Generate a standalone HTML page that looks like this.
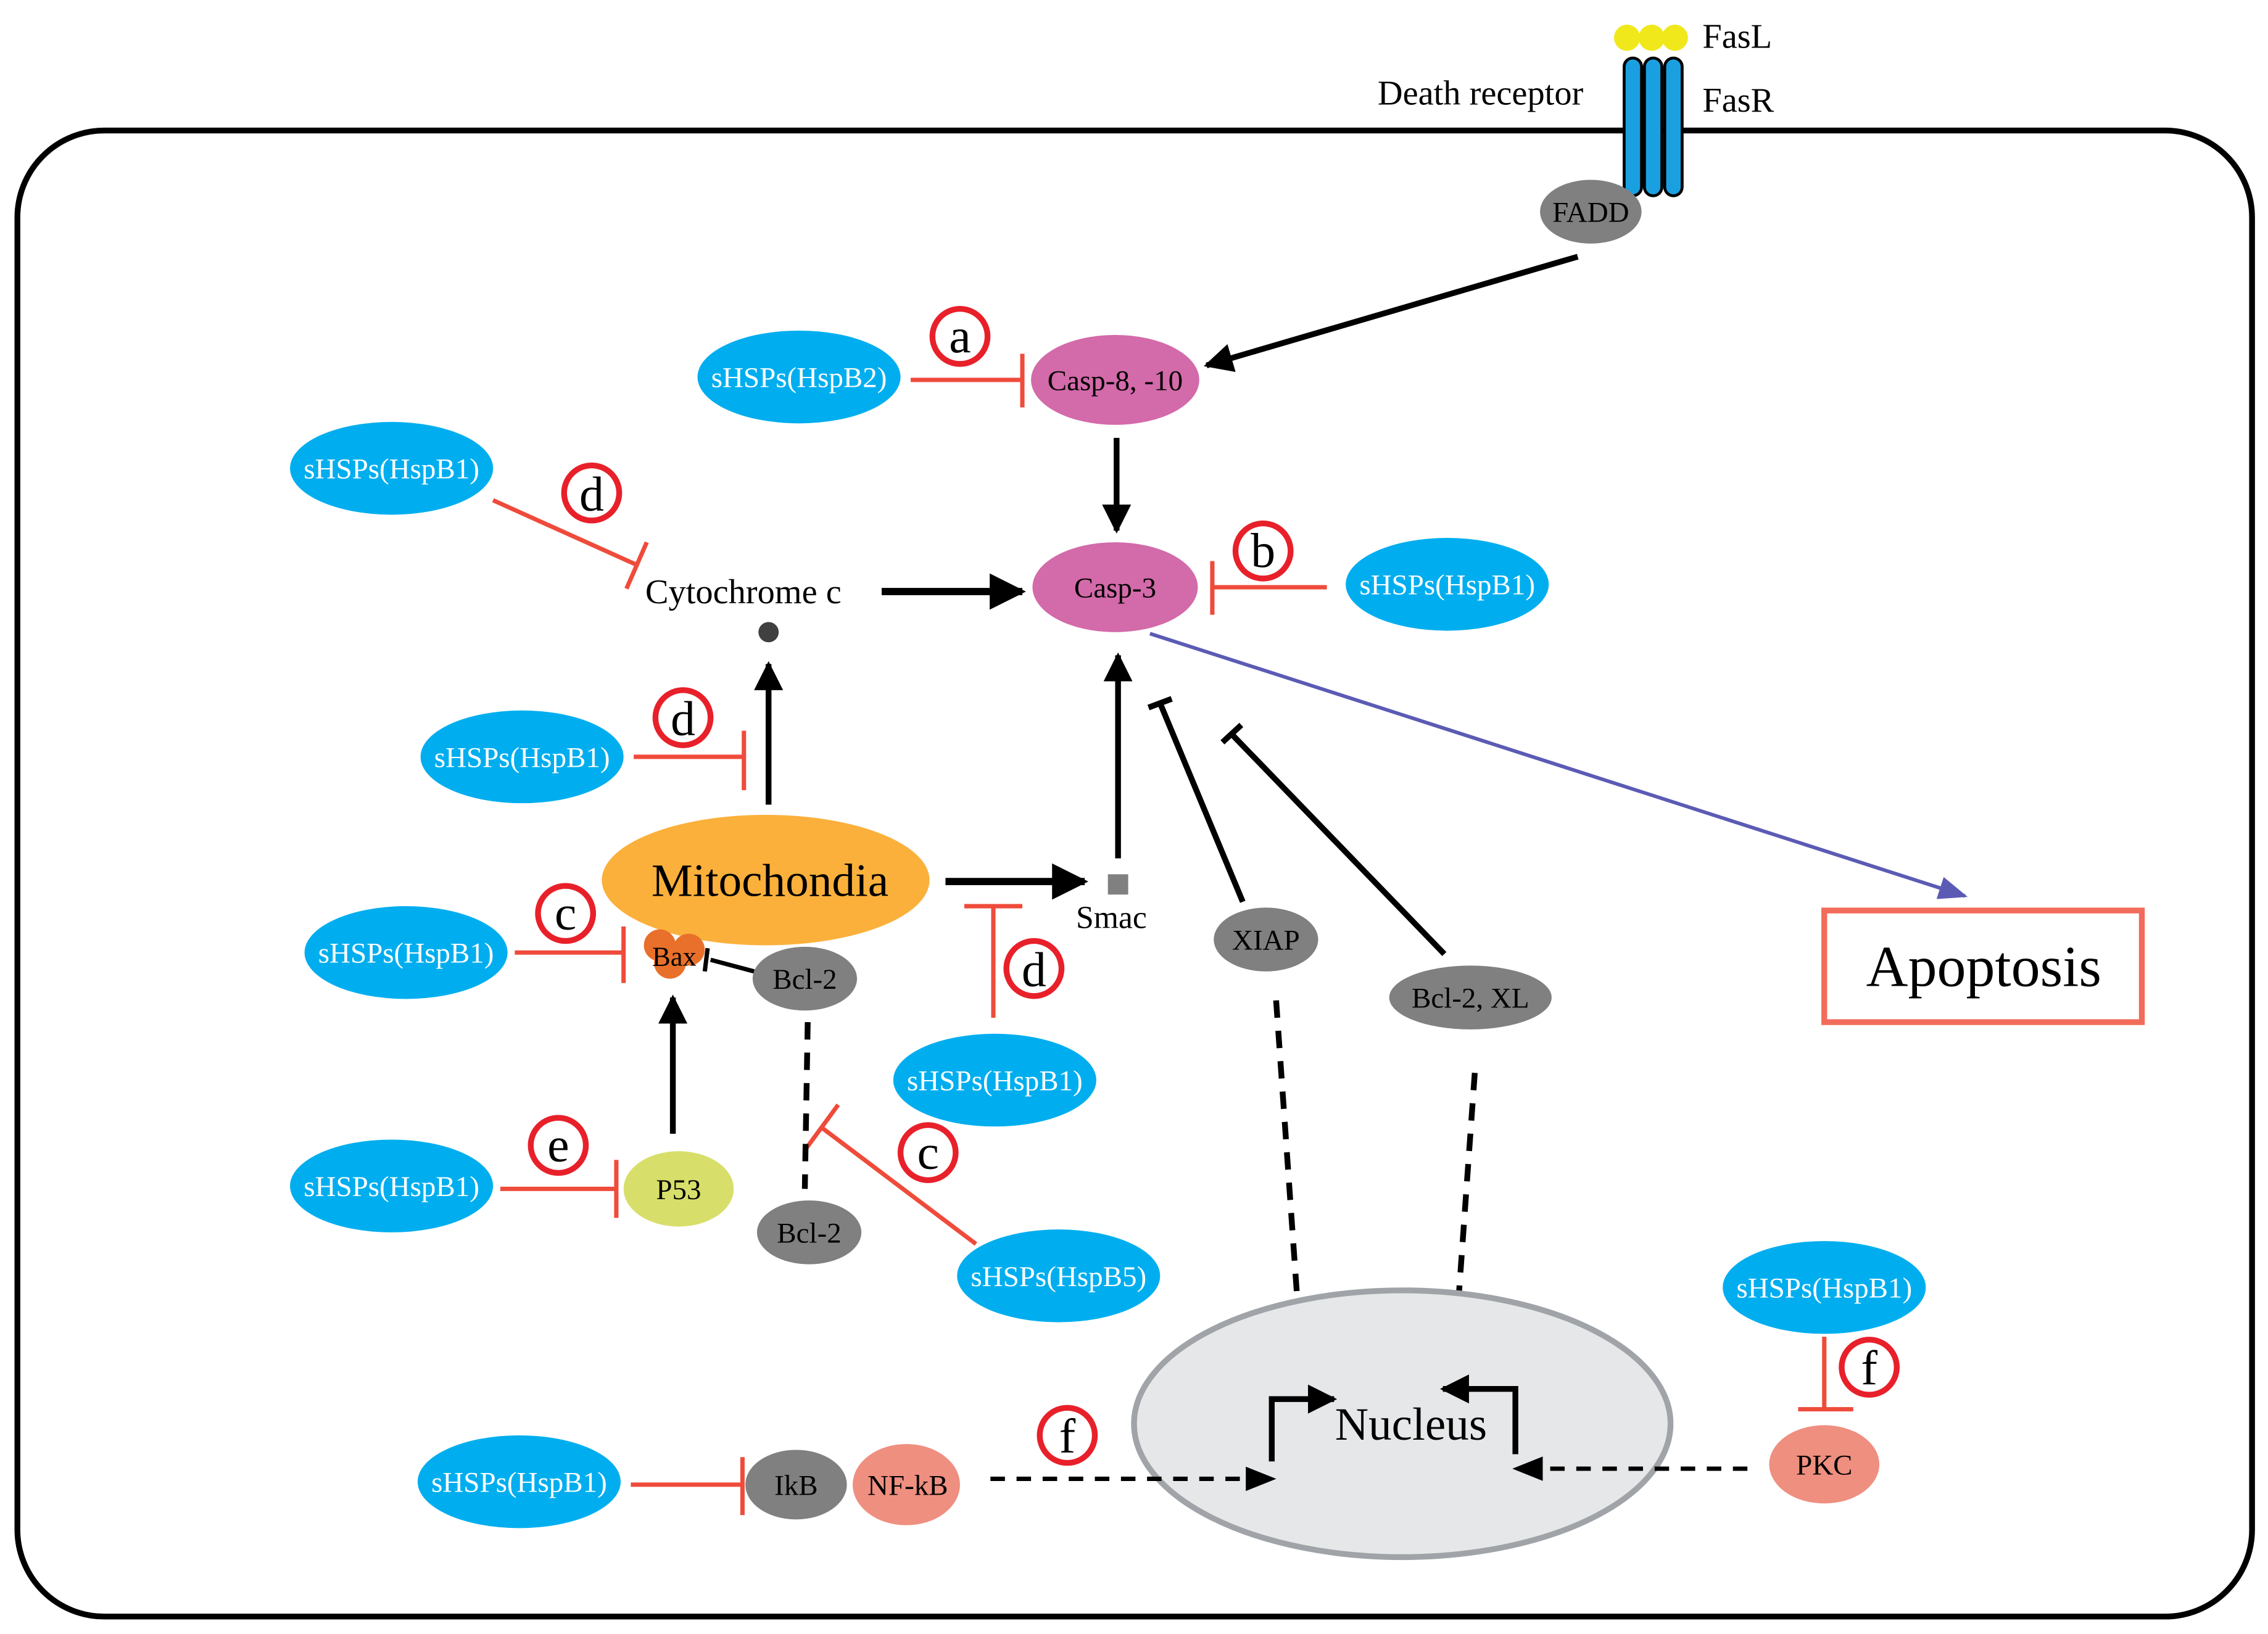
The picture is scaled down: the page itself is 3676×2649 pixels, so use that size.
<!DOCTYPE html>
<html><head><meta charset="utf-8"><style>html,body{margin:0;padding:0;background:#fff}svg{display:block}</style></head>
<body>
<svg width="3676" height="2649" viewBox="0 0 1564 1127" xmlns="http://www.w3.org/2000/svg" font-family="Liberation Serif, serif">
<defs>
<marker id="ah" viewBox="0 0 10 10" refX="9" refY="5" markerWidth="5" markerHeight="5" orient="auto"><path d="M0,0 L10,5 L0,10 z" fill="#000"/></marker>
<marker id="ahs" viewBox="0 0 10 10" refX="9" refY="5" markerWidth="7" markerHeight="7" orient="auto"><path d="M0,1 L10,5 L0,9 z" fill="#000"/></marker>
<marker id="ahp" viewBox="0 0 10 10" refX="9" refY="5" markerWidth="8" markerHeight="8" orient="auto"><path d="M0,1 L10,5 L0,9 z" fill="#5b5bb5"/></marker>
</defs>
<rect x="12" y="90" width="1541" height="1025" rx="60" fill="none" stroke="#000" stroke-width="4"/>
<!-- receptor -->
<circle cx="1122" cy="26" r="9" fill="#f0e81a"/><circle cx="1139" cy="26" r="9" fill="#f0e81a"/><circle cx="1155" cy="26" r="9" fill="#f0e81a"/>
<rect x="1120" y="40" width="12" height="95" rx="6" fill="#1aa0e0" stroke="#000" stroke-width="2"/>
<rect x="1134" y="40" width="12" height="95" rx="6" fill="#1aa0e0" stroke="#000" stroke-width="2"/>
<rect x="1148" y="40" width="12" height="95" rx="6" fill="#1aa0e0" stroke="#000" stroke-width="2"/>
<text x="1174" y="33" font-size="24">FasL</text>
<text x="1174" y="77" font-size="24">FasR</text>
<text x="950" y="72" font-size="24">Death receptor</text>
<ellipse cx="1097" cy="146" rx="35" ry="22" fill="#808080"/><text x="1097" y="153" font-size="20" text-anchor="middle">FADD</text>
<line x1="1088" y1="177" x2="832" y2="252" stroke="#000" stroke-width="4" marker-end="url(#ah)"/>
<!-- casp8 -->
<ellipse cx="769" cy="262" rx="58" ry="31" fill="#d36aa9"/><text x="769" y="269" font-size="20" text-anchor="middle">Casp-8, -10</text>
<g fill="#00aeef"><ellipse cx="551" cy="260" rx="70" ry="32"/><ellipse cx="270" cy="323" rx="70" ry="32"/><ellipse cx="998" cy="403" rx="70" ry="32"/><ellipse cx="360" cy="522" rx="70" ry="32"/><ellipse cx="280" cy="657" rx="70" ry="32"/><ellipse cx="686" cy="745" rx="70" ry="32"/><ellipse cx="270" cy="818" rx="70" ry="32"/><ellipse cx="730" cy="880" rx="70" ry="32"/><ellipse cx="1258" cy="888" rx="70" ry="32"/><ellipse cx="358" cy="1022" rx="70" ry="32"/></g>
<g fill="#fff" font-size="20" text-anchor="middle">
<text x="551" y="267">sHSPs(HspB2)</text><text x="270" y="330">sHSPs(HspB1)</text><text x="998" y="410">sHSPs(HspB1)</text><text x="360" y="529">sHSPs(HspB1)</text><text x="280" y="664">sHSPs(HspB1)</text><text x="686" y="752">sHSPs(HspB1)</text><text x="270" y="825">sHSPs(HspB1)</text><text x="730" y="887">sHSPs(HspB5)</text><text x="1258" y="895">sHSPs(HspB1)</text><text x="358" y="1029">sHSPs(HspB1)</text></g>
<!-- red inhibitors -->
<g stroke="#ef4b3b" stroke-width="3" fill="none">
<path d="M628,262 H705 M705,244 V281"/>
<path d="M915,405 H836 M836,387 V424"/>
<path d="M340,345 L440,390 M446,374 L432,406"/>
<path d="M437,522 H513 M513,504 V545"/>
<path d="M355,657 H430 M430,639 V678"/>
<path d="M685,702 V625 M665,625 H705"/>
<path d="M345,820 H425 M425,800 V840"/>
<path d="M673,858 L567,778 M556,792 L578,762"/>
<path d="M1258,922 V972 M1240,972 H1278"/>
<path d="M435,1024 H512 M512,1005 V1045"/>
</g>
<!-- letter labels -->
<g font-size="34" text-anchor="middle">
<g fill="#fff" stroke="#e8202a" stroke-width="4"><circle cx="662" cy="232" r="19"/><circle cx="871" cy="380" r="19"/><circle cx="408" cy="340" r="19"/><circle cx="471" cy="495" r="19"/><circle cx="390" cy="630" r="19"/><circle cx="713" cy="668" r="19"/><circle cx="385" cy="790" r="19"/><circle cx="640" cy="795" r="19"/><circle cx="1289" cy="943" r="19"/><circle cx="736" cy="990" r="19"/></g>
<text x="662" y="243">a</text><text x="871" y="391">b</text><text x="408" y="352">d</text><text x="471" y="507">d</text><text x="390" y="641">c</text><text x="713" y="680">d</text><text x="385" y="801">e</text><text x="640" y="806">c</text><text x="1289" y="955">f</text><text x="736" y="1002">f</text></g>
<!-- casp3 -->
<line x1="770" y1="302" x2="770" y2="366" stroke="#000" stroke-width="4" marker-end="url(#ah)"/>
<ellipse cx="769" cy="405" rx="57" ry="31" fill="#d36aa9"/><text x="769" y="412" font-size="20" text-anchor="middle">Casp-3</text>
<text x="445" y="416" font-size="24">Cytochrome c</text>
<circle cx="530" cy="436" r="7" fill="#404040"/>
<line x1="608" y1="408" x2="705" y2="408" stroke="#000" stroke-width="5" marker-end="url(#ah)"/>
<line x1="530" y1="555" x2="530" y2="458" stroke="#000" stroke-width="4" marker-end="url(#ah)"/>
<ellipse cx="528" cy="607" rx="113" ry="45" fill="#fbb03b"/><text x="531" y="618" font-size="32" text-anchor="middle">Mitochondia</text>
<line x1="652" y1="608" x2="748" y2="608" stroke="#000" stroke-width="5" marker-end="url(#ah)"/>
<rect x="764" y="603" width="14" height="14" fill="#808080"/>
<text x="742" y="640" font-size="22">Smac</text>
<line x1="771" y1="592" x2="771" y2="452" stroke="#000" stroke-width="4" marker-end="url(#ah)"/>
<path d="M857,622 L800,485 M792,488 L808,482" stroke="#000" stroke-width="4" fill="none"/>
<path d="M996,658 L850,507 M843,512 L856,500" stroke="#000" stroke-width="4" fill="none"/>
<ellipse cx="873" cy="648" rx="36" ry="22" fill="#808080"/><text x="873" y="655" font-size="20" text-anchor="middle">XIAP</text>
<ellipse cx="1014" cy="688" rx="56" ry="22" fill="#808080"/><text x="1014" y="695" font-size="20" text-anchor="middle">Bcl-2, XL</text>
<g stroke="#000" stroke-width="4" stroke-dasharray="12,9" fill="none"><path d="M880,690 L897,930"/><path d="M1017,740 L1003,935"/><path d="M557,705 L555,820"/></g>
<!-- nucleus -->
<ellipse cx="967" cy="982" rx="185" ry="92" fill="#e6e7e8" stroke="#a0a4a8" stroke-width="4"/>
<text x="973" y="993" font-size="32" text-anchor="middle">Nucleus</text>
<path d="M877,1008 V965 H920" stroke="#000" stroke-width="4" fill="none" marker-end="url(#ah)"/>
<path d="M1045,1003 V958 H995" stroke="#000" stroke-width="4" fill="none" marker-end="url(#ah)"/>
<!-- apoptosis -->
<line x1="793" y1="437" x2="1355" y2="618" stroke="#5b5bb5" stroke-width="2.5" marker-end="url(#ahp)"/>
<rect x="1258" y="628" width="219" height="77" fill="#fff" stroke="#f26b5b" stroke-width="4"/>
<text x="1368" y="680" font-size="40" text-anchor="middle">Apoptosis</text>
<!-- Bax -->
<circle cx="455" cy="652" r="11" fill="#e8702a"/><circle cx="475" cy="655" r="11" fill="#e8702a"/><circle cx="462" cy="664" r="11" fill="#e8702a"/>
<text x="465" y="666" font-size="19" text-anchor="middle">Bax</text>
<path d="M520,670 L490,662 M488,654 L486,670" stroke="#000" stroke-width="3" fill="none"/>
<ellipse cx="555" cy="675" rx="36" ry="22" fill="#808080"/><text x="555" y="682" font-size="20" text-anchor="middle">Bcl-2</text>
<line x1="464" y1="782" x2="464" y2="688" stroke="#000" stroke-width="4" marker-end="url(#ah)"/>
<ellipse cx="468" cy="820" rx="38" ry="26" fill="#d7df6a"/><text x="468" y="827" font-size="20" text-anchor="middle">P53</text>
<ellipse cx="558" cy="850" rx="36" ry="22" fill="#808080"/><text x="558" y="857" font-size="20" text-anchor="middle">Bcl-2</text>
<!-- PKC -->
<ellipse cx="1258" cy="1010" rx="38" ry="27" fill="#ef8f80"/><text x="1258" y="1017" font-size="20" text-anchor="middle">PKC</text>
<line x1="1205" y1="1013" x2="1045" y2="1013" stroke="#000" stroke-width="3" stroke-dasharray="10,8" marker-end="url(#ahs)"/>
<ellipse cx="549" cy="1024" rx="35" ry="24" fill="#808080"/><text x="549" y="1031" font-size="20" text-anchor="middle">IkB</text>
<ellipse cx="625" cy="1024" rx="37" ry="28" fill="#ef8f80"/><text x="626" y="1031" font-size="20" text-anchor="middle">NF-kB</text>
<line x1="683" y1="1020" x2="878" y2="1020" stroke="#000" stroke-width="3" stroke-dasharray="10,8" marker-end="url(#ahs)"/>
</svg>
</body></html>
